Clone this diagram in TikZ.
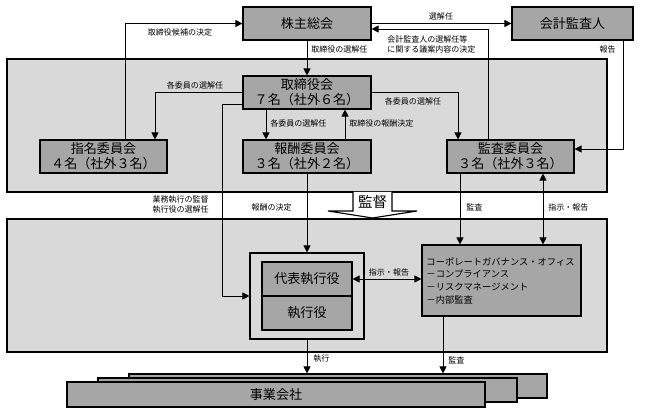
\documentclass[tikz,border=0pt]{standalone}
\usepackage{fontspec}
\setmainfont{Noto Sans CJK JP}
\usepackage{tikz}
\usetikzlibrary{arrows.meta, positioning}

\definecolor{boxgray}{gray}{0.65}
\definecolor{panelgray}{gray}{0.85}

\begin{document}
\begin{tikzpicture}[x=0.025cm,y=-0.025cm,
    box/.style={draw,thick,fill=boxgray,inner sep=0pt,align=center,
      font=\fontsize{9.3}{10.6}\selectfont},
    panel/.style={draw,thick,fill=panelgray},
    lbl/.style={inner sep=0pt,font=\fontsize{5.7}{7.1}\selectfont},
    arr/.style={semithick,-{Triangle[length=5pt,width=5pt]}},
    dbl/.style={semithick,{Triangle[length=5pt,width=5pt]}-{Triangle[length=5pt,width=5pt]}}]
        \useasboundingbox (0,0) rectangle (645,412);
        % panels
        \draw[panel] (7,59) rectangle (607,192);
        \draw[panel] (7,219) rectangle (607,352);
        % kantoku arrow
        \draw[thick,fill=white] (353,192) -- (353,211) -- (328,211) -- (372.5,218)
          -- (417,211) -- (392,211) -- (392,192);
        \node[inner sep=0pt,font=\fontsize{10.3}{12}\selectfont] (kantoku) at (372.5,201.5) {監督};
        \begin{scope}[every node/.style={box}]
          \node[minimum width=3.2cm,minimum height=0.825cm] (kabu) at (307,23.5) {株主総会};
          \node[minimum width=3.025cm,minimum height=0.825cm] (kaikei) at (572.5,23.5) {会計監査人};
          \node[minimum width=3.2cm,minimum height=0.825cm] (tori) at (307,92.5) {取締役会\\７名（社外６名）};
          \node[minimum width=3.175cm,minimum height=0.825cm] (shimei) at (103.5,156.5) {指名委員会\\４名（社外３名）};
          \node[minimum width=3.2cm,minimum height=0.825cm] (hoshu) at (307,156.5) {報酬委員会\\３名（社外２名）};
          \node[minimum width=3.175cm,minimum height=0.825cm] (kansa) at (510.5,156.5) {監査委員会\\３名（社外３名）};
          \node[fill=panelgray,minimum width=2.85cm,minimum height=2.15cm] (exec) at (307,296) {};
          \node[minimum width=2.25cm,minimum height=0.85cm] (daihyo) at (307,279) {代表執行役};
          \node[minimum width=2.25cm,minimum height=0.85cm] (shikko) at (307,313) {執行役};
          \node[minimum height=1.775cm,text width=3.75cm,inner xsep=0.1125cm,align=left,
            font=\fontsize{6.6}{9}\selectfont] (cgo) at (501.5,280.5)
            {コーポレートガバナンス・オフィス\\－コンプライアンス\\－リスクマネージメント\\－内部監査};
          \node[minimum width=10.45cm,minimum height=0.6cm] (jigyo3) at (338,386) {};
          \node[minimum width=10.475cm,minimum height=0.6cm] (jigyo2) at (307.5,390) {};
          \node[minimum width=10.45cm,minimum height=0.625cm] (jigyo) at (276,394.5) {事業会社};
        \end{scope}
        % guides for the vertical lines
        \coordinate (c1) at (125,0);
        \coordinate (c4) at (488,29);
        \coordinate (c5) at (623,149);
        \coordinate (c6) at (155,0);
        \coordinate (c7) at (458,0);
        \coordinate (c8) at (266,0);
        \coordinate (c9) at (345,0);
        \coordinate (c10) at (222,104);
        \coordinate (c12) at (460,0);
        \coordinate (c13) at (543,0);
        \coordinate (c16) at (443,0);
        % connectors
        \draw[arr] (shimei.north -| c1) |- (kabu.west);
        \draw[arr] (kabu) -- (tori);
        \draw[arr] (kabu) -- (kaikei);
        \draw[arr] (kansa.north -| c4) |- (kabu.east |- c4);
        \draw[arr] (kaikei.south -| c5) |- (kansa.east |- c5);
        \draw[arr] (tori.west) -| (shimei.north -| c6);
        \draw[arr] (tori.east) -| (kansa.north -| c7);
        \draw[arr] (tori.south -| c8) -- (hoshu.north -| c8);
        \draw[arr] (hoshu.north -| c9) -- (tori.south -| c9);
        \draw[arr] (tori.west |- c10) -- (c10) |- (exec.west);
        \draw[arr] (hoshu) -- (exec);
        \draw[arr] (kansa.south -| c12) -- (cgo.north -| c12);
        \draw[dbl] (kansa.south -| c13) -- (cgo.north -| c13);
        \draw[dbl] (daihyo.east) -- (cgo.west |- daihyo.east);
        \draw[arr] (exec.south) -- (exec.south |- jigyo3.north);
        \draw[arr] (cgo.south -| c16) -- (jigyo3.north -| c16);
        % labels
        \begin{scope}[every node/.style={lbl}]
          \node (l1) at (180,32) {取締役候補の決定};
          \node[anchor=west] (l2) at (311,49) {取締役の選解任};
          \node (l3) at (441,16) {選解任};
          \node[anchor=north west,align=left] (l4) at (387,35) {会計監査人の選解任等\\に関する議案内容の決定};
          \node[anchor=east] (l5) at (616,49) {報告};
          \node (l6) at (195,85) {各委員の選解任};
          \node (l7) at (413,101) {各委員の選解任};
          \node[anchor=west] (l8) at (270,123) {各委員の選解任};
          \node[anchor=west] (l9) at (349,123) {取締役の報酬決定};
          \node[anchor=north east,align=right] (l10) at (209,195) {業務執行の監督\\執行役の選解任};
          \node[anchor=east] (l11) at (292,207) {報酬の決定};
          \node[anchor=west] (l12) at (466,207) {監査};
          \node[anchor=west] (l13) at (548,207) {指示・報告};
          \node (l14) at (389,272) {指示・報告};
          \node[anchor=west] (l15) at (313,359) {執行};
          \node[anchor=west] (l16) at (448,360) {監査};
        \end{scope}
      \end{tikzpicture}
\end{document}
